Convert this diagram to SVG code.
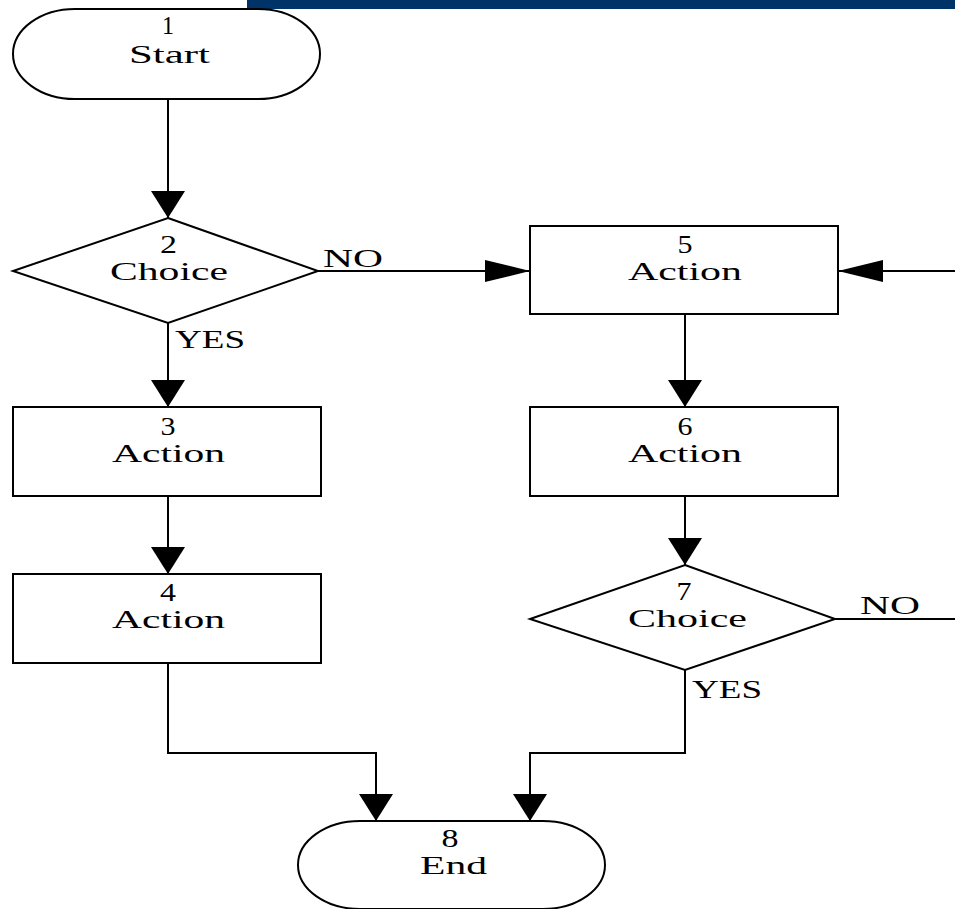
<svg xmlns="http://www.w3.org/2000/svg" width="955" height="909" viewBox="0 0 955 909">
<defs>
<style>
.shape{fill:#fff;stroke:#000;stroke-width:2}
.line{fill:none;stroke:#000;stroke-width:2}
.v{marker-end:url(#arrV)}
.h{marker-end:url(#arrH)}
text{font-family:"Liberation Serif","DejaVu Serif",serif;font-size:26px;fill:#000}
.c{text-anchor:middle}
</style>
<marker id="arrV" markerUnits="userSpaceOnUse" orient="auto" markerWidth="28" markerHeight="34" refX="27" refY="17">
<path d="M0,0 L27,17 L0,34 Z" fill="#000"/>
</marker>
<marker id="arrH" markerUnits="userSpaceOnUse" orient="auto" markerWidth="46" markerHeight="22" refX="45" refY="11">
<path d="M0,0 L45,11 L0,22 Z" fill="#000"/>
</marker>
</defs>
<rect x="247" y="0" width="708" height="9" fill="#003468"/>
<g id="connectors">
<path class="line v" d="M168,99 V218"/>
<path class="line h" d="M318,271 H530"/>
<path class="line v" d="M168,323 V407"/>
<path class="line v" d="M168,496 V574"/>
<path class="line v" d="M685,314 V407"/>
<path class="line v" d="M685,496 V565"/>
<path class="line" d="M835,619 H955"/>
<path class="line h" d="M955,271 H838"/>
<path class="line v" d="M168,663 V753 H376 V821"/>
<path class="line v" d="M685,670 V753 H530 V821"/>
<text x="323" y="267" textLength="60" lengthAdjust="spacingAndGlyphs">NO</text>
<text x="175" y="348" textLength="70" lengthAdjust="spacingAndGlyphs">YES</text>
<text x="860" y="614" textLength="60" lengthAdjust="spacingAndGlyphs">NO</text>
<text x="692" y="698" textLength="70" lengthAdjust="spacingAndGlyphs">YES</text>
</g>
<g id="node1">
<path class="shape" d="M75,9 H258 A62,45 0 0 1 258,99 H75 A62,45 0 0 1 75,9 Z"/>
<text class="c" x="168" y="34" textLength="12" lengthAdjust="spacingAndGlyphs">1</text>
<text class="c" x="169.5" y="63" textLength="81" lengthAdjust="spacingAndGlyphs">Start</text>
</g>
<g id="node2">
<polygon class="shape" points="168,218 318,271 168,323 13,271"/>
<text class="c" x="168.5" y="253" textLength="17" lengthAdjust="spacingAndGlyphs">2</text>
<text class="c" x="169" y="280" textLength="118" lengthAdjust="spacingAndGlyphs">Choice</text>
</g>
<g id="node3">
<rect class="shape" x="13" y="407" width="308" height="89"/>
<text class="c" x="168" y="435" textLength="15" lengthAdjust="spacingAndGlyphs">3</text>
<text class="c" x="168.5" y="462" textLength="113" lengthAdjust="spacingAndGlyphs">Action</text>
</g>
<g id="node4">
<rect class="shape" x="13" y="574" width="308" height="89"/>
<text class="c" x="168" y="601" textLength="16" lengthAdjust="spacingAndGlyphs">4</text>
<text class="c" x="168.5" y="628" textLength="113" lengthAdjust="spacingAndGlyphs">Action</text>
</g>
<g id="node5">
<rect class="shape" x="530" y="226" width="308" height="88"/>
<text class="c" x="685" y="253" textLength="15" lengthAdjust="spacingAndGlyphs">5</text>
<text class="c" x="685" y="280" textLength="114" lengthAdjust="spacingAndGlyphs">Action</text>
</g>
<g id="node6">
<rect class="shape" x="530" y="407" width="308" height="89"/>
<text class="c" x="685" y="435" textLength="15" lengthAdjust="spacingAndGlyphs">6</text>
<text class="c" x="685" y="462" textLength="114" lengthAdjust="spacingAndGlyphs">Action</text>
</g>
<g id="node7">
<polygon class="shape" points="685,565 835,619 685,670 530,619"/>
<text class="c" x="684" y="600" textLength="15" lengthAdjust="spacingAndGlyphs">7</text>
<text class="c" x="687.5" y="627" textLength="119" lengthAdjust="spacingAndGlyphs">Choice</text>
</g>
<g id="node8">
<path class="shape" d="M360,821 H543 A62,44 0 0 1 543,909 H360 A62,44 0 0 1 360,821 Z"/>
<text class="c" x="450" y="847" textLength="17" lengthAdjust="spacingAndGlyphs">8</text>
<text class="c" x="453.5" y="874" textLength="67" lengthAdjust="spacingAndGlyphs">End</text>
</g>
</svg>
